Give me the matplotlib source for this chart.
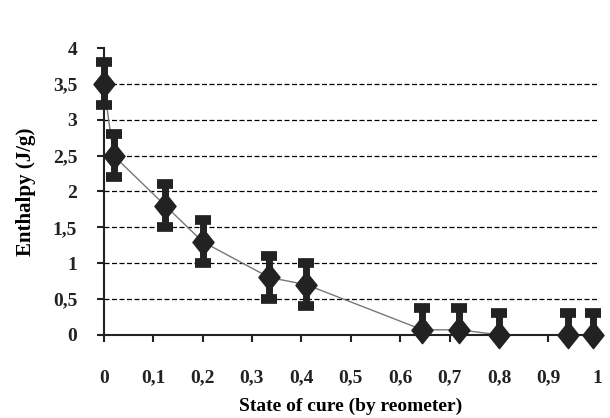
import matplotlib
matplotlib.use("Agg")
import matplotlib.pyplot as plt
from matplotlib.patches import Rectangle
from matplotlib.ticker import MultipleLocator, FuncFormatter

cure = [0.0, 0.02, 0.125, 0.2, 0.335, 0.41, 0.645, 0.72, 0.8, 0.94, 0.99]
enthalpy = [3.5, 2.5, 1.8, 1.3, 0.8, 0.7, 0.07, 0.07, 0.0, 0.0, 0.0]
err = [0.3, 0.3, 0.3, 0.3, 0.3, 0.3, 0.3, 0.3, 0.3, 0.3, 0.3]
grid_levels = [0.5, 1.0, 1.5, 2.0, 2.5, 3.0, 3.5]

plt.rcParams['font.family'] = ['Liberation Serif', 'DejaVu Serif']
plt.rcParams['font.weight'] = 'bold'

fig = plt.figure(figsize=(6.1, 4.18), dpi=100)
ax = fig.add_axes([0.170, 0.199, 0.810, 0.686])

for g in grid_levels:
    ax.axhline(g, color='black', linestyle=(0, (4, 2)), linewidth=0.9, zorder=1)

diamond = [(0, 1), (0.8, 0), (0, -1), (-0.8, 0), (0, 1)]
ax.plot(cure, enthalpy, color='#777777', lw=1.0, zorder=2)
eb = ax.errorbar(cure, enthalpy, yerr=err, fmt='none', ecolor='#222222',
                 elinewidth=5, capsize=6, capthick=7, zorder=3)
clip = Rectangle((-0.1, 0.0), 1.2, 1.2, transform=ax.transAxes,
                 facecolor='none', edgecolor='none')
for art in list(eb.lines[1]) + list(eb.lines[2]):
    art.set_clip_path(clip)
ax.plot(cure, enthalpy, linestyle='none', marker=diamond, markersize=19,
        color='#222222', zorder=4, clip_on=False)

ax.set_xlim(0, 1)
ax.set_ylim(0, 4)
ax.xaxis.set_major_locator(MultipleLocator(0.1))
ax.yaxis.set_major_locator(MultipleLocator(0.5))
fmt = FuncFormatter(lambda v, p: ('%g' % round(v, 2)).replace('.', ','))
ax.xaxis.set_major_formatter(fmt)
ax.yaxis.set_major_formatter(fmt)

for s in ['top', 'right']:
    ax.spines[s].set_visible(False)
for s in ['left', 'bottom']:
    ax.spines[s].set_linewidth(1.5)
    ax.spines[s].set_color('#222222')

ax.tick_params(axis='both', direction='out', length=5, width=1.5, colors='#222222',
               labelsize=14, labelcolor='#222222')
ax.tick_params(axis='x', pad=20)
ax.tick_params(axis='y', pad=14)

ax.set_xlabel('State of cure (by reometer)', fontsize=14, fontweight='bold', labelpad=8)
ax.set_ylabel('Enthalpy (J/g)', fontsize=15, fontweight='bold', labelpad=12)

fig.savefig('out.png', dpi=100)
